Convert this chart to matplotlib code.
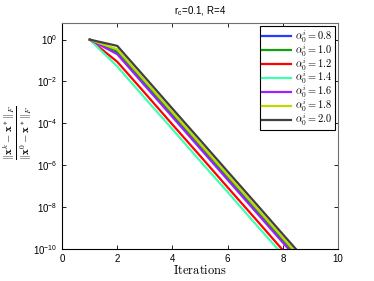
import numpy as np
import matplotlib
matplotlib.use('Agg')
import matplotlib.pyplot as plt

plt.rcParams['font.family'] = ['Liberation Sans', 'DejaVu Sans']
plt.rcParams['mathtext.fontset'] = 'cm'

iters = [1, 2, 3, 4, 5, 6, 7, 8, 9]
alphas = ['0.8', '1.0', '1.2', '1.4', '1.6', '1.8', '2.0']
colors = ['#1f3fff', '#10a010', '#ff0000', '#40ffb0', '#a020ff', '#c0d800', '#404040']

err_08 = [1.0, 2.4e-1, 7.6e-3, 2.4e-4, 7.6e-6, 2.4e-7, 7.6e-9, 2.4e-10, 7.6e-12]
err_10 = [1.0, 2.8e-1, 8.9e-3, 2.8e-4, 8.9e-6, 2.8e-7, 8.9e-9, 2.8e-10, 8.9e-12]
err_12 = [1.0, 8.7e-2, 2.8e-3, 8.7e-5, 2.8e-6, 8.7e-8, 2.8e-9, 8.7e-11, 2.8e-12]
err_14 = [1.0, 5.2e-2, 1.6e-3, 5.2e-5, 1.6e-6, 5.2e-8, 1.6e-9, 5.2e-11, 1.6e-12]
err_16 = [1.0, 2.0e-1, 6.3e-3, 2.0e-4, 6.3e-6, 2.0e-7, 6.3e-9, 2.0e-10, 6.3e-12]
err_18 = [1.0, 3.4e-1, 1.07e-2, 3.4e-4, 1.07e-5, 3.4e-7, 1.07e-8, 3.4e-10, 1.07e-11]
err_20 = [1.0, 5.0e-1, 1.6e-2, 5.0e-4, 1.6e-5, 5.0e-7, 1.6e-8, 5.0e-10, 1.6e-11]
series = [err_08, err_10, err_12, err_14, err_16, err_18, err_20]

fig = plt.figure(figsize=(3.74, 2.81), dpi=100)
ax = fig.add_axes([0.166, 0.114, 0.738, 0.804])

for a, c, s in zip(alphas, colors, series):
    ax.semilogy(iters, s, color=c, lw=1.6, label=r'$\alpha_0^i = %s$' % a)

ax.set_xlim(0, 10)
ax.set_ylim(1e-10, 10**0.79)
ax.set_xticks([0, 2, 4, 6, 8, 10])
ax.set_yticks([1e-10, 1e-8, 1e-6, 1e-4, 1e-2, 1e0])
ax.minorticks_off()
ax.tick_params(direction='in', top=True, right=True, labelsize=7, length=3, width=0.6)
for side in ['top', 'right']:
    ax.spines[side].set_color('#707070')
for sp in ax.spines.values():
    sp.set_linewidth(0.8)

ax.set_title(r'r$_\mathregular{c}$=0.1, R=4', fontsize=7, pad=6)
ax.set_xlabel(r'$\mathrm{Iterations}$', fontsize=9, labelpad=0)
fig.text(0.047, 0.527, r'$\frac{\|\mathbf{x}^k-\mathbf{x}^*\|_F}{\|\mathbf{x}^0-\mathbf{x}^*\|_F}$',
         fontsize=11, rotation=90, ha='center', va='center')

leg = ax.legend(loc='upper right', fontsize=7.5, fancybox=False, edgecolor='black',
                handlelength=2.8, borderpad=0.2, labelspacing=-0.25, handletextpad=0.4,
                borderaxespad=0.3, framealpha=1)
leg.get_frame().set_linewidth(0.8)

fig.savefig('out.png', dpi=100)
